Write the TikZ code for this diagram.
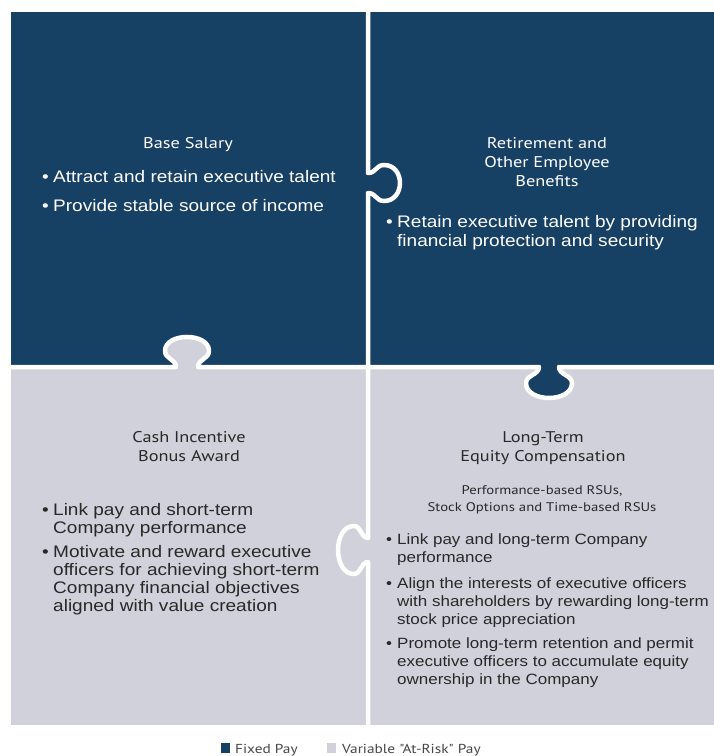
\documentclass[tikz,border=0pt]{standalone}
\usepackage{fontspec}
\setmainfont{Liberation Sans}
\newfontfamily\bulfont[FakeStretch=1.14]{Liberation Sans}
\newfontfamily\ttlfont[FakeStretch=1.18]{PT Sans}
\definecolor{navy}{RGB}{23,64,101}
\definecolor{lightpc}{RGB}{209,209,220}
\definecolor{txtgray}{RGB}{40,40,40}
\definecolor{leggray}{RGB}{70,70,70}
\newcommand{\bl}{\makebox[11pt][l]{\textbullet}}
\begin{document}
\begin{tikzpicture}[x=1pt,y=-1pt,
  bul/.style={anchor=base west,inner sep=0pt,font=\bulfont\fontsize{16.7}{18}\selectfont},
  bulr/.style={anchor=base west,inner sep=0pt,font=\bulfont\fontsize{14.9}{18}\selectfont},
  ttl/.style={anchor=base,inner sep=0pt,font=\ttlfont\fontsize{15.5}{18}\selectfont},
  subt/.style={anchor=base,inner sep=0pt,font=\ttlfont\fontsize{12.5}{15}\selectfont},
  leg/.style={anchor=base west,inner sep=0pt,font=\ttlfont\fontsize{13}{15}\selectfont,text=leggray},
  sep/.style={draw=white,line width=4.5pt,line join=round}]
\useasboundingbox (0,0) rectangle (714,756);
\fill[white] (0,0) rectangle (714,756);
% quadrants
\fill[navy] (11,12) rectangle (714,367);
\fill[lightpc] (11,367) rectangle (714,725);
% tab 2: light tab into dark
\fill[lightpc] (176,368) -- (176,367) .. controls (176,359) and (165,359) .. (165,351)
  .. controls (165,332.3) and (209,332.3) .. (209,351)
  .. controls (209,359) and (198,359) .. (198,367) -- (198,368) -- cycle;
% tab 3: dark tab into light
\fill[navy] (539,366) -- (539,367) .. controls (539,375) and (526,375) .. (526,383)
  .. controls (526,403) and (572,403) .. (572,383)
  .. controls (572,375) and (559,375) .. (559,367) -- (559,366) -- cycle;
% separating white lines
\draw[sep] (368,12) -- (368,173) .. controls (376,173) and (376,165) .. (384,165)
  .. controls (405.3,165) and (405.3,201) .. (384,201)
  .. controls (376,201) and (376,193) .. (368,193) -- (368,367);
\draw[sep] (368,367) -- (368,538) .. controls (361,538) and (361,526) .. (354,526)
  .. controls (332.7,526) and (332.7,574) .. (354,574)
  .. controls (361,574) and (361,562) .. (368,562) -- (368,725);
\draw[sep] (11,367) -- (176,367) .. controls (176,359) and (165,359) .. (165,351)
  .. controls (165,332.3) and (209,332.3) .. (209,351)
  .. controls (209,359) and (198,359) .. (198,367) -- (368,367);
\draw[sep] (368,367) -- (539,367) .. controls (539,375) and (526,375) .. (526,383)
  .. controls (526,403) and (572,403) .. (572,383)
  .. controls (572,375) and (559,375) .. (559,367) -- (714,367);
% top-left
\node[ttl,white] (bs) at (188,148) {Base Salary};
\node[bul,white] (bs1) at (42,182) {\bl Attract and retain executive talent};
\node[bul,white] (bs2) at (42,211) {\bl Provide stable source of income};
% top-right
\node[ttl,white] (rt1) at (547,148) {Retirement and};
\node[ttl,white] (rt2) at (547,167) {Other Employee};
\node[ttl,white] (rt3) at (547,186) {Benefits};
\node[bul,white] (rb1) at (386,227) {\bl Retain executive talent by providing};
\node[bul,white] (rb2) at (397,246) {financial protection and security};
% bottom-left
\node[ttl,text=txtgray] (ci1) at (189,442) {Cash Incentive};
\node[ttl,text=txtgray] (ci2) at (189,461) {Bonus Award};
\node[bul,text=txtgray] (cb1) at (42,515) {\bl Link pay and short-term};
\node[bul,text=txtgray] (cb2) at (53,533) {Company performance};
\node[bul,text=txtgray] (cb3) at (42,557) {\bl Motivate and reward executive};
\node[bul,text=txtgray] (cb4) at (53,575) {officers for achieving short-term};
\node[bul,text=txtgray] (cb5) at (53,593) {Company financial objectives};
\node[bul,text=txtgray] (cb6) at (53,611) {aligned with value creation};
% bottom-right
\node[ttl,text=txtgray] (lt1) at (543,442) {Long-Term};
\node[ttl,text=txtgray] (lt2) at (543,461) {Equity Compensation};
\node[subt,text=txtgray] (ls1) at (542,494) {Performance-based RSUs,};
\node[subt,text=txtgray] (ls2) at (542,511) {Stock Options and Time-based RSUs};
\node[bulr,text=txtgray] (lb1) at (386,544) {\bl Link pay and long-term Company};
\node[bulr,text=txtgray] (lb2) at (397,562) {performance};
\node[bulr,text=txtgray] (lb3) at (386,588) {\bl Align the interests of executive officers};
\node[bulr,text=txtgray] (lb4) at (397,606) {with shareholders by rewarding long-term};
\node[bulr,text=txtgray] (lb5) at (397,624) {stock price appreciation};
\node[bulr,text=txtgray] (lb6) at (386,648) {\bl Promote long-term retention and permit};
\node[bulr,text=txtgray] (lb7) at (397,666) {executive officers to accumulate equity};
\node[bulr,text=txtgray] (lb8) at (397,684) {ownership in the Company};
% legend
\fill[navy] (221,743) rectangle (230,753);
\node[leg] (lg1) at (235,753) {Fixed Pay};
\fill[lightpc] (327,743) rectangle (336,753);
\node[leg] (lg2) at (342,753) {Variable "At-Risk" Pay};
\end{tikzpicture}
\end{document}
